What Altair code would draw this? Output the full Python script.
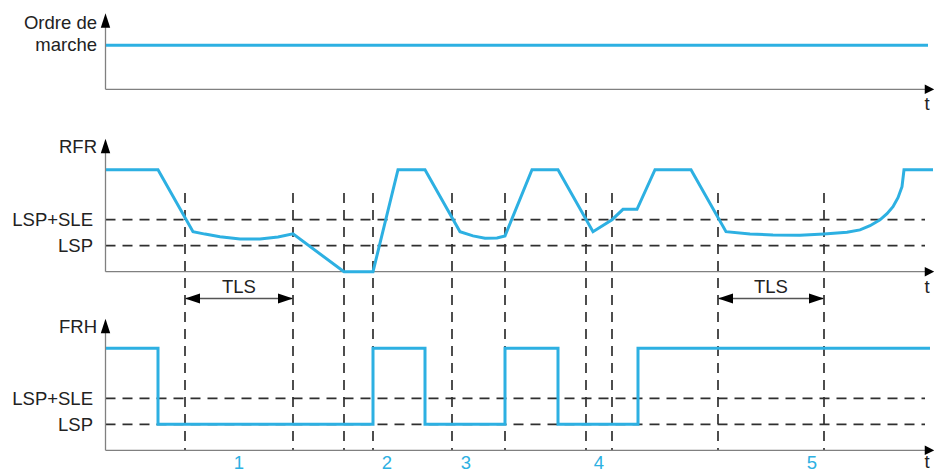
import altair as alt
import pandas as pd

# ---------------- data ----------------
# time axis values (arbitrary time units)
CMD_T = [106, 928]
CMD_V = [1, 1]  # run command: on

RFR_T = [106, 158, 193, 205, 220, 240, 260, 278, 293, 344, 373, 398, 425,
         460, 473, 485, 497, 505, 532, 558, 593, 612, 623, 637, 655, 691,
         726, 750, 773, 800, 824, 847, 860, 870, 880, 887, 893, 898, 902, 904, 933]
RFR_V = [51, 51, 20, 18.8, 17.5, 16.3, 16.4, 17.4, 18.9, 0, 0, 51, 51,
         20, 17.9, 16.7, 16.9, 17.9, 51, 51, 20, 26, 31.2, 31.2, 51, 51,
         20, 18.9, 18.4, 18.2, 18.9, 19.7, 20.9, 23, 25.9, 29, 32.5, 37, 42.5, 51, 51]

FRH_T = [106, 158, 373, 425, 505, 558, 638, 930]
FRH_V = [51, 13, 51, 13, 51, 13, 51, 51]

LSP = 13
LSP_SLE = 26
THRESH_LABELS = ["LSP+SLE", "LSP"]
THRESH_VALUES = [LSP_SLE, LSP]

EVENT_T = [185, 293, 344, 373, 452, 505, 586, 612, 718, 824]
TLS_START = [185, 718]
TLS_END = [293, 824]
CASE_LABELS = ["1", "2", "3", "4", "5"]
CASE_T = [239, 387, 466, 599, 812]
DASH_END = 925

# ---------------- layout (pixels) ----------------
BASE = {"cmd": 89.3, "rfr": 271.7, "frh": 450.3}
PX = {"cmd": 44.0, "rfr": 2.0, "frh": 2.0}
ARROW_CENTER = {"cmd": 20.5, "rfr": 146.0, "frh": 326.0}
T_LABEL_Y = {"cmd": 110, "rfr": 293, "frh": 468}
AXIS_X = 105.5
AXIS_END = 930
ARROW_R = 929.5

BLUE = "#2db0e2"
DASH_COL = "#2f2f2f"
AXIS_COL = "#808080"
FONT = "Liberation Sans"
FS = 18.5


def py(panel, v):
    return BASE[panel] - PX[panel] * v


X = alt.X("x:Q", scale=alt.Scale(domain=[8, 934]), axis=None)
Y = alt.Y("y:Q", scale=alt.Scale(domain=[8, 473], reverse=True), axis=None)
X2 = alt.X2("x2:Q")
Y2 = alt.Y2("y2:Q")

# signal lines
sig = pd.DataFrame(
    [{"x": t, "y": py("cmd", v), "s": "cmd"} for t, v in zip(CMD_T, CMD_V)]
    + [{"x": t, "y": py("rfr", v), "s": "rfr"} for t, v in zip(RFR_T, RFR_V)]
)
lines = alt.Chart(sig).mark_line(color=BLUE, strokeWidth=3).encode(
    x=X, y=Y, detail="s:N", order="x:Q")

frh = pd.DataFrame({"x": FRH_T, "y": [py("frh", v) for v in FRH_V]})
frh_line = alt.Chart(frh).mark_line(color=BLUE, strokeWidth=3,
                                    interpolate="step-after").encode(x=X, y=Y)

# threshold dashed lines
th = pd.DataFrame([{"x": AXIS_X, "x2": DASH_END, "y": py(p, v)}
                   for p in ("rfr", "frh") for v in THRESH_VALUES])
th_rules = alt.Chart(th).mark_rule(color=DASH_COL, strokeWidth=1.7,
                                   strokeDash=[10, 7]).encode(x=X, x2=X2, y=Y)

# event dashed verticals
ev = pd.DataFrame({"x": EVENT_T, "y": [193] * len(EVENT_T),
                   "y2": [BASE["frh"]] * len(EVENT_T)})
ev_rules = alt.Chart(ev).mark_rule(color=DASH_COL, strokeWidth=1.7,
                                   strokeDash=[10, 7]).encode(x=X, y=Y, y2=Y2)

# axes
ax_v = pd.DataFrame([{"x": AXIS_X, "y": BASE[p], "y2": ARROW_CENTER[p]} for p in BASE])
ax_h = pd.DataFrame([{"x": AXIS_X, "x2": AXIS_END, "y": BASE[p]} for p in BASE])
axes_v = alt.Chart(ax_v).mark_rule(color=AXIS_COL, strokeWidth=1.3).encode(x=X, y=Y, y2=Y2)
axes_h = alt.Chart(ax_h).mark_rule(color=AXIS_COL, strokeWidth=1.3).encode(x=X, x2=X2, y=Y)

up = pd.DataFrame([{"x": AXIS_X, "y": ARROW_CENTER[p]} for p in BASE])
arrows_up = alt.Chart(up).mark_point(shape="M-0.65,1L0,-1L0.65,1Z", filled=True,
                                     size=210, color="black", opacity=1).encode(x=X, y=Y)
right = pd.DataFrame([{"x": ARROW_R, "y": BASE[p]} for p in BASE])
arrows_right = alt.Chart(right).mark_point(shape="M-1,-1L1,0L-1,1Z", filled=True,
                                           size=90, color="black", opacity=1).encode(x=X, y=Y)

# TLS dimension arrows
TLS_Y = 298.5
tls = pd.DataFrame({"x": TLS_START, "x2": TLS_END, "y": [TLS_Y] * len(TLS_START)})
tls_rule = alt.Chart(tls).mark_rule(color="#555555", strokeWidth=1.3).encode(x=X, x2=X2, y=Y)
tl = pd.DataFrame({"x": [s + 7.5 for s in TLS_START], "y": [TLS_Y] * len(TLS_START)})
tls_left = alt.Chart(tl).mark_point(shape="M1,-0.67L-1,0L1,0.67Z", filled=True, size=225,
                                    color="black", opacity=1).encode(x=X, y=Y)
tr = pd.DataFrame({"x": [e - 7.5 for e in TLS_END], "y": [TLS_Y] * len(TLS_END)})
tls_right = alt.Chart(tr).mark_point(shape="M-1,-0.67L1,0L-1,0.67Z", filled=True, size=225,
                                     color="black", opacity=1).encode(x=X, y=Y)
tls_txt = pd.DataFrame({"x": [(a + b) / 2 for a, b in zip(TLS_START, TLS_END)],
                        "y": [293] * len(TLS_START), "text": ["TLS"] * len(TLS_START)})
tls_text = alt.Chart(tls_txt).mark_text(font=FONT, fontSize=FS, align="center",
                                        baseline="alphabetic", color="#222222").encode(
    x=X, y=Y, text="text:N")

# labels
left = pd.DataFrame(
    [{"x": 97, "y": 29, "text": "Ordre de"},
     {"x": 97, "y": 50.5, "text": "marche"},
     {"x": 97, "y": 153, "text": "RFR"},
     {"x": 97, "y": 333, "text": "FRH"}]
    + [{"x": 93, "y": py(p, v) + 6.5, "text": lab}
       for p in ("rfr", "frh") for lab, v in zip(THRESH_LABELS, THRESH_VALUES)]
)
left_text = alt.Chart(left).mark_text(font=FONT, fontSize=FS, align="right",
                                      baseline="alphabetic", color="#222222").encode(
    x=X, y=Y, text="text:N")

tt = pd.DataFrame([{"x": 927, "y": T_LABEL_Y[p], "text": "t"} for p in BASE])
t_text = alt.Chart(tt).mark_text(font=FONT, fontSize=FS, align="center",
                                 baseline="alphabetic", color="#222222").encode(
    x=X, y=Y, text="text:N")

cases = pd.DataFrame({"x": CASE_T, "y": [468.5] * len(CASE_T), "text": CASE_LABELS})
case_text = alt.Chart(cases).mark_text(font=FONT, fontSize=FS, align="center",
                                       baseline="alphabetic", color=BLUE).encode(
    x=X, y=Y, text="text:N")

chart = alt.layer(
    th_rules, ev_rules, axes_v, axes_h, arrows_up, arrows_right,
    tls_rule, tls_left, tls_right, tls_text,
    lines, frh_line, left_text, t_text, case_text,
).properties(
    width=926, height=465, padding=0, autosize=alt.AutoSizeParams(type="none"),
    background="white",
).configure_view(stroke=None)

chart.save("out.html", embed_options={"renderer": "svg", "actions": False})
